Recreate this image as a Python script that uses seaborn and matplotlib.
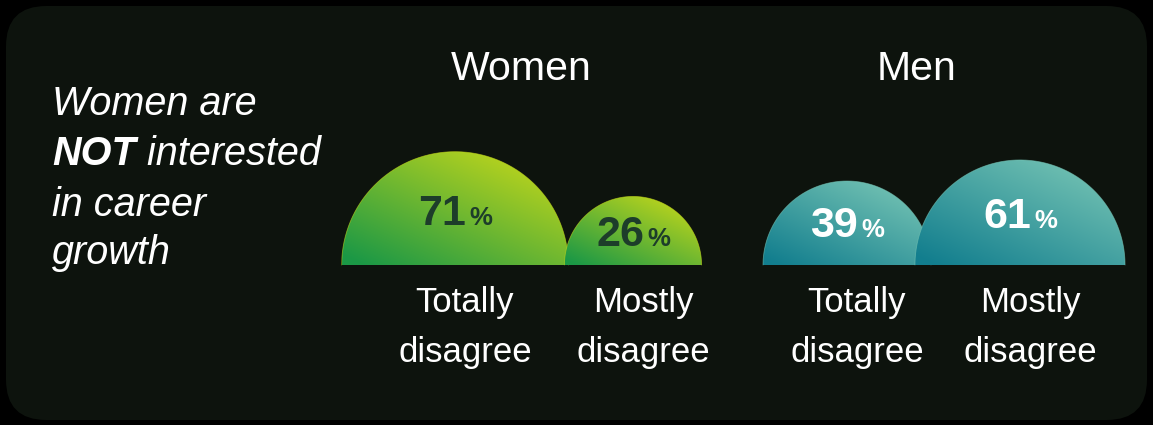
import numpy as np
import matplotlib
matplotlib.use("Agg")
import matplotlib.pyplot as plt
from matplotlib.patches import FancyBboxPatch, Polygon
from matplotlib.colors import to_rgb
import pandas as pd
import seaborn as sns

# ---- data -------------------------------------------------------------
groups = ["Women", "Women", "Men", "Men"]
answers = ["Totally\ndisagree", "Mostly\ndisagree", "Totally\ndisagree", "Mostly\ndisagree"]
values = [71, 26, 39, 61]
group_titles = ["Women", "Men"]
headline_lines = ["Women are", ("NOT", " interested"), "in career", "growth"]

# ---- styling ----------------------------------------------------------
sns.set_theme(style="dark")
plt.rcParams["font.family"] = ["Liberation Sans", "DejaVu Sans"]

BG_OUTER = "#000000"
BG_CARD = "#0d130d"
GRADIENTS = {
    "Women": ("#1b9846", "#c3d71b"),
    "Men": ("#127e8e", "#76c4b4"),
}
VALUE_COLORS = {"Women": "#1d3d2a", "Men": "#ffffff"}

W, H = 1153, 425
fig = plt.figure(figsize=(W / 100, H / 100), dpi=100, facecolor=BG_OUTER)
card = FancyBboxPatch((6 / W, 5 / H), (W - 12) / W, (H - 11) / H,
                      boxstyle="round,pad=0,rounding_size=0.035",
                      transform=fig.transFigure, facecolor=BG_CARD,
                      edgecolor="none", mutation_aspect=W / H, zorder=-5)
fig.patches.append(card)

ax = fig.add_axes([0, 0, 1, 1])
ax.set_zorder(1)
ax.set_xlim(0, W)
ax.set_ylim(H, 0)
ax.set_facecolor("none")
ax.axis("off")

# layout of the half-discs (area proportional to the value)
centers = [455, 633, 847, 1020]
baseline = 265
scale = 13.45
label_lift = [0.355, 0.27, 0.33, 0.35]

df = pd.DataFrame({"group": groups, "answer": answers, "value": values, "cx": centers})
df["r"] = scale * np.sqrt(df["value"])

order = [0, 1, 2, 3]


def gradient_image(c0, c1, n=200):
    u = np.linspace(0, 1, n)[None, :]
    v = np.linspace(1, 0, n)[:, None]
    t = np.clip(0.55 * u + 0.6 * v - 0.05, 0, 1)[..., None]
    a, b = np.array(to_rgb(c0)), np.array(to_rgb(c1))
    return a * (1 - t) + b * t


for i in order:
    row = df.iloc[i]
    cx, r = row["cx"], row["r"]
    theta = np.linspace(0, np.pi, 200)
    xs = cx + r * np.cos(theta)
    ys = baseline - r * np.sin(theta)
    poly = Polygon(np.column_stack([xs, ys]), closed=True, facecolor="none",
                   edgecolor="none", zorder=2 + i)
    ax.add_patch(poly)
    c0, c1 = GRADIENTS[row["group"]]
    im = ax.imshow(gradient_image(c0, c1), extent=(cx - r, cx + r, baseline, baseline - r),
                   origin="upper", zorder=2 + i, interpolation="bilinear", aspect="auto")
    im.set_clip_path(poly)
    arc = pd.DataFrame({"x": xs, "y": ys})
    sns.lineplot(data=arc, x="x", y="y", sort=False, ax=ax, color=c1,
                 lw=0.6, alpha=0.6, zorder=2.5 + i, legend=False)

ax.set_xlim(0, W)
ax.set_ylim(H, 0)
ax.set_xlabel("")
ax.set_ylabel("")

fig.canvas.draw()
renderer = fig.canvas.get_renderer()

# value labels: bold number with a smaller percent sign
for i in order:
    row = df.iloc[i]
    cx, r = row["cx"], row["r"]
    y = baseline - label_lift[i] * r
    col = VALUE_COLORS[row["group"]]
    tn = ax.text(0, y, f"{row['value']}", fontsize=31, fontweight="bold",
                 color=col, ha="left", va="baseline", zorder=10)
    tp = ax.text(0, y, "%", fontsize=18.5, fontweight="bold",
                 color=col, ha="left", va="baseline", zorder=10)
    wn = tn.get_window_extent(renderer).width
    wp = tp.get_window_extent(renderer).width
    gap = 3
    x0 = cx - (wn + gap + wp) / 2
    tn.set_x(x0)
    tp.set_x(x0 + wn + gap)

# category labels under each disc
for i in order:
    row = df.iloc[i]
    first, second = row["answer"].split("\n")
    ax.text(row["cx"] + 10, 312, first, fontsize=25, color="white",
            ha="center", va="baseline")
    ax.text(row["cx"] + 10, 362, second, fontsize=25, color="white",
            ha="center", va="baseline")

# group titles
title_x = {"Women": 521, "Men": 916}
for g in group_titles:
    ax.text(title_x[g], 80, g, fontsize=29.5, color="white", ha="center", va="baseline")

# headline on the left
hx = 52
base_ys = [115, 165, 216, 264]
for line, y in zip(headline_lines, base_ys):
    if isinstance(line, tuple):
        tb = ax.text(hx, y, line[0], fontsize=28.5, fontstyle="italic",
                     fontweight="bold", color="white", ha="left", va="baseline")
        wb = tb.get_window_extent(renderer).width
        ax.text(hx + wb, y, line[1], fontsize=28.5, fontstyle="italic",
                color="white", ha="left", va="baseline")
    else:
        ax.text(hx, y, line, fontsize=28.5, fontstyle="italic",
                color="white", ha="left", va="baseline")

fig.savefig("out.png", dpi=100, facecolor=BG_OUTER)
